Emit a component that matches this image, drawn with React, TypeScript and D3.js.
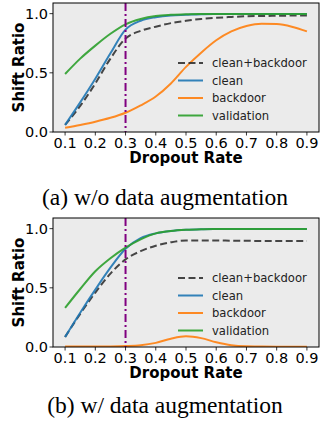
import React from "react";
import * as d3 from "d3";

// Dropout rates sampled along the x axis
const dropoutRates = [0.1, 0.15, 0.2, 0.25, 0.3, 0.35, 0.4, 0.45, 0.5, 0.55, 0.6, 0.65, 0.7, 0.75, 0.8, 0.85, 0.9];

// (a) without data augmentation
const noAugCleanBackdoor = [0.06, 0.22, 0.41, 0.62, 0.79, 0.855, 0.89, 0.92, 0.94, 0.955, 0.965, 0.972, 0.978, 0.98, 0.982, 0.984, 0.985];
const noAugClean = [0.06, 0.25, 0.45, 0.665, 0.865, 0.94, 0.97, 0.985, 0.99, 0.995, 0.997, 0.998, 0.998, 0.998, 0.998, 0.998, 0.998];
const noAugBackdoor = [0.036, 0.06, 0.087, 0.12, 0.163, 0.225, 0.3, 0.41, 0.55, 0.67, 0.775, 0.85, 0.895, 0.915, 0.912, 0.89, 0.85];
const noAugValidation = [0.49, 0.62, 0.73, 0.83, 0.91, 0.955, 0.98, 0.99, 0.995, 0.997, 0.998, 0.998, 0.998, 0.998, 0.998, 0.998, 0.998];

// (b) with data augmentation
const augCleanBackdoor = [0.085, 0.28, 0.46, 0.62, 0.74, 0.81, 0.856, 0.885, 0.9, 0.9, 0.9, 0.898, 0.897, 0.896, 0.895, 0.895, 0.895];
const augClean = [0.085, 0.29, 0.485, 0.67, 0.83, 0.92, 0.96, 0.98, 0.99, 0.995, 0.997, 0.998, 0.998, 0.998, 0.998, 0.998, 0.998];
const augBackdoor = [0.004, 0.004, 0.004, 0.005, 0.008, 0.015, 0.035, 0.07, 0.09, 0.075, 0.04, 0.015, 0.006, 0.004, 0.003, 0.003, 0.003];
const augValidation = [0.33, 0.49, 0.64, 0.75, 0.84, 0.91, 0.96, 0.98, 0.99, 0.995, 0.997, 0.998, 0.998, 0.998, 0.998, 0.998, 0.998];

const xTicks = [0.1, 0.2, 0.3, 0.4, 0.5, 0.6, 0.7, 0.8, 0.9];
const yTicks = [0.0, 0.5, 1.0];
const selectedRate = 0.3;

const seriesNames = ["clean+backdoor", "clean", "backdoor", "validation"];
const seriesColors = ["#333333", "#1f77b4", "#ff7f0e", "#2ca02c"];
const seriesDash = ["7,3.5", null, null, null];

const panels = [
  { caption: "(a) w/o data augmentation", captionY: 205, series: [noAugCleanBackdoor, noAugClean, noAugBackdoor, noAugValidation] },
  { caption: "(b) w/ data augmentation", captionY: 413, series: [augCleanBackdoor, augClean, augBackdoor, augValidation] },
];

const W = 330;
const H = 425;
const plotLeft = 53;
const plotRight = 319;
const plotHeight = 129;
const panelTops = [3, 218];
const font = "DejaVu Sans, sans-serif";

function Panel({ top, caption, captionY, series }: { top: number; caption: string; captionY: number; series: number[][] }) {
  const x = d3.scaleLinear().domain([0.06, 0.94]).range([plotLeft, plotRight]);
  const y = d3.scaleLinear().domain([0, 1.09]).range([top + plotHeight, top]);
  const line = d3
    .line<number>()
    .x((_, i) => x(dropoutRates[i]))
    .y((v) => y(v))
    .curve(d3.curveMonotoneX);
  const bottom = top + plotHeight;
  const clipId = `clip-${top}`;
  const legendRowsY = [top + 60, top + 77.5, top + 95, top + 112.5];

  return (
    <g>
      <defs>
        <clipPath id={clipId}>
          <rect x={plotLeft} y={top} width={plotRight - plotLeft} height={plotHeight} />
        </clipPath>
      </defs>
      <rect x={plotLeft} y={top} width={plotRight - plotLeft} height={plotHeight} fill="#ebebeb" />
      <g clipPath={`url(#${clipId})`}>
        {series.map((vals, i) => (
          <path
            key={i}
            d={line(vals) || ""}
            fill="none"
            stroke={seriesColors[i]}
            strokeWidth={2}
            strokeDasharray={seriesDash[i] || undefined}
            opacity={0.9}
          />
        ))}
        <line
          x1={x(selectedRate)}
          x2={x(selectedRate)}
          y1={top}
          y2={bottom}
          stroke="#800080"
          strokeWidth={2}
          strokeDasharray="8,3,2,3"
        />
      </g>
      <rect x={plotLeft} y={top} width={plotRight - plotLeft} height={plotHeight} fill="none" stroke="#000" strokeWidth={1} />
      {xTicks.map((t) => (
        <g key={`x${t}`}>
          <line x1={x(t)} x2={x(t)} y1={bottom} y2={bottom + 3.5} stroke="#000" strokeWidth={0.8} />
          <text x={x(t)} y={bottom + 15.5} textAnchor="middle" fontFamily={font} fontSize={14.5} fill="#000">
            {t.toFixed(1)}
          </text>
        </g>
      ))}
      {yTicks.map((t) => (
        <g key={`y${t}`}>
          <line x1={plotLeft - 3.5} x2={plotLeft} y1={y(t)} y2={y(t)} stroke="#000" strokeWidth={0.8} />
          <text x={plotLeft - 5} y={y(t) + 5.2} textAnchor="end" fontFamily={font} fontSize={14.5} fill="#000">
            {t.toFixed(1)}
          </text>
        </g>
      ))}
      <text
        transform={`translate(${24},${top + plotHeight / 2}) rotate(-90)`}
        textAnchor="middle"
        fontFamily={font}
        fontSize={15}
        fontWeight="bold"
        fill="#000"
      >
        Shift Ratio
      </text>
      <text x={(plotLeft + plotRight) / 2} y={bottom + 31} textAnchor="middle" fontFamily={font} fontSize={15} fontWeight="bold" fill="#000">
        Dropout Rate
      </text>
      {seriesNames.map((name, i) => (
        <g key={name}>
          <line
            x1={178}
            x2={203}
            y1={legendRowsY[i]}
            y2={legendRowsY[i]}
            stroke={seriesColors[i]}
            strokeWidth={2}
            strokeDasharray={seriesDash[i] || undefined}
            opacity={0.9}
          />
          <text x={212} y={legendRowsY[i] + 4.2} fontFamily={font} fontSize={11.6} fill="#222">
            {name}
          </text>
        </g>
      ))}
      <text x={165} y={captionY} textAnchor="middle" fontFamily="Liberation Serif, Times New Roman, serif" fontSize={23.5} fill="#000">
        {caption}
      </text>
    </g>
  );
}

export default function App() {
  return (
    <svg width={W} height={H} style={{ position: "absolute", left: 0, top: 0, background: "#fff" }}>
      {panels.map((p, i) => (
        <Panel key={i} top={panelTops[i]} caption={p.caption} captionY={p.captionY} series={p.series} />
      ))}
    </svg>
  );
}
